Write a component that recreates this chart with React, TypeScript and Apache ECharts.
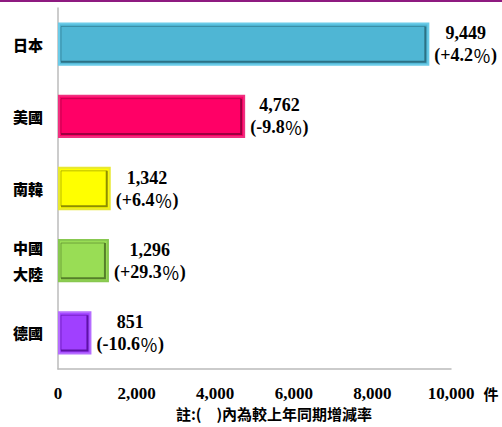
import React, { useEffect, useRef } from "react";
import * as echarts from "echarts";

const categories = ["日本", "美國", "南韓", "中國\n大陸", "德國"];
const values = [9449, 4762, 1342, 1296, 851];
const changes = ["+4.2", "-9.8", "+6.4", "+29.3", "-10.6"];
const fillColors = ["#4FB6D4", "#FF0066", "#FFFF00", "#99DD55", "#A040FF"];
const edgeColors = ["#6BCBE8", "#F0307F", "#E8E830", "#88C850", "#B56CFF"];
const darkColors = ["#2C7185", "#9C0040", "#8E8E00", "#557F2A", "#5E12A6"];
const xTicks = [0, 2000, 4000, 6000, 8000, 10000];

const SERIF = "'Times New Roman', 'Liberation Serif', serif";
const CJK = "'Noto Sans CJK TC', 'Noto Sans CJK SC', sans-serif";

function measure(text: string, font: string): number {
  const c = document.createElement("canvas").getContext("2d");
  if (!c) return text.length * 9;
  c.font = font;
  return c.measureText(text).width;
}

export default function App() {
  const ref = useRef<HTMLDivElement>(null);
  useEffect(() => {
    if (!ref.current) return;
    document.body.style.margin = "0";
    const chart = echarts.init(ref.current, undefined, { renderer: "svg" });
    const serifFont = `bold 18px ${SERIF}`;
    const pctFont = `normal 18px ${CJK}`;
    const barData = values.map((v, i) => {
      const l1 = v.toLocaleString("en-US");
      const w1 = measure(l1, serifFont);
      const w2 =
        measure("(" + changes[i], serifFont) +
        measure("％", pctFont) +
        measure(")", serifFont);
      const w = Math.max(w1, w2);
      return {
        value: v,
        itemStyle: { color: fillColors[i], borderColor: edgeColors[i], borderWidth: 2 },
        label: { offset: [w / 2, 0] },
      };
    });
    chart.setOption({
      animation: false,
      graphic: [
        { type: "rect", shape: { x: 0, y: 0, width: 502, height: 2 }, style: { fill: "#8E1A80" } },
        {
          type: "text",
          x: 491,
          y: 393,
          style: { text: "件", font: `bold 15px ${CJK}`, fill: "#000", align: "center", verticalAlign: "middle" },
        },
        {
          type: "text",
          x: 274,
          y: 413,
          style: {
            text: "註:(　)內為較上年同期增減率",
            font: `bold 15px ${CJK}`,
            fill: "#000",
            align: "center",
            verticalAlign: "middle",
          },
        },
      ],
      grid: { left: 58, right: 51, top: 8, bottom: 58, containLabel: false },
      xAxis: {
        type: "value",
        min: xTicks[0],
        max: xTicks[xTicks.length - 1],
        interval: xTicks[1] - xTicks[0],
        axisLine: { show: true, lineStyle: { color: "#BBBBBB", width: 1.5 } },
        axisTick: { show: false },
        splitLine: { show: false },
        axisLabel: {
          margin: 16,
          fontFamily: SERIF,
          fontWeight: "bold",
          fontSize: 17,
          color: "#000",
          formatter: (v: number) => v.toLocaleString("en-US"),
        },
      },
      yAxis: {
        type: "category",
        data: categories,
        inverse: true,
        axisLine: { show: true, lineStyle: { color: "#BBBBBB", width: 1.5 } },
        axisTick: { show: false },
        axisLabel: {
          margin: 15,
          fontFamily: CJK,
          fontWeight: 900,
          fontSize: 15,
          lineHeight: 26,
          color: "#000",
        },
      },
      series: [
        {
          type: "bar",
          data: barData,
          barWidth: "60%",
          label: {
            show: true,
            position: "right",
            distance: 5,
            align: "center",
            verticalAlign: "middle",
            formatter: (p: any) =>
              `{v|${p.value.toLocaleString("en-US")}}\n{v|(${changes[p.dataIndex]}}{p|％}{v|)}`,
            rich: {
              v: { fontFamily: SERIF, fontWeight: "bold", fontSize: 18, lineHeight: 22, color: "#000" },
              p: { fontFamily: CJK, fontWeight: "normal", fontSize: 18, lineHeight: 22, color: "#000" },
            },
          },
        },
        {
          type: "custom",
          silent: true,
          z: 3,
          data: values.map((v, i) => [v, i]),
          encode: { x: 0, y: 1 },
          renderItem: (params: any, api: any) => {
            const i = params.dataIndex;
            const v = api.value(0);
            const c = api.value(1);
            const start = api.coord([0, c]);
            const end = api.coord([v, c]);
            const h = api.size([0, 1])[1] * 0.6;
            const x0 = start[0] + 3;
            const x1 = end[0] - 4;
            const y0 = start[1] - h / 2 + 4;
            const y1 = start[1] + h / 2 - 4;
            return {
              type: "group",
              children: [
                {
                  type: "polyline",
                  shape: { points: [[x0, y1], [x0, y0], [x1, y0]] },
                  style: { stroke: darkColors[i], lineWidth: 1, fill: null, opacity: 0.6 },
                },
                {
                  type: "polyline",
                  shape: { points: [[x0, y1], [x1, y1], [x1, y0]] },
                  style: { stroke: darkColors[i], lineWidth: 2, fill: null },
                },
              ],
            };
          },
        },
      ],
    });
    return () => chart.dispose();
  }, []);
  return <div ref={ref} style={{ width: 502, height: 427 }} />;
}
